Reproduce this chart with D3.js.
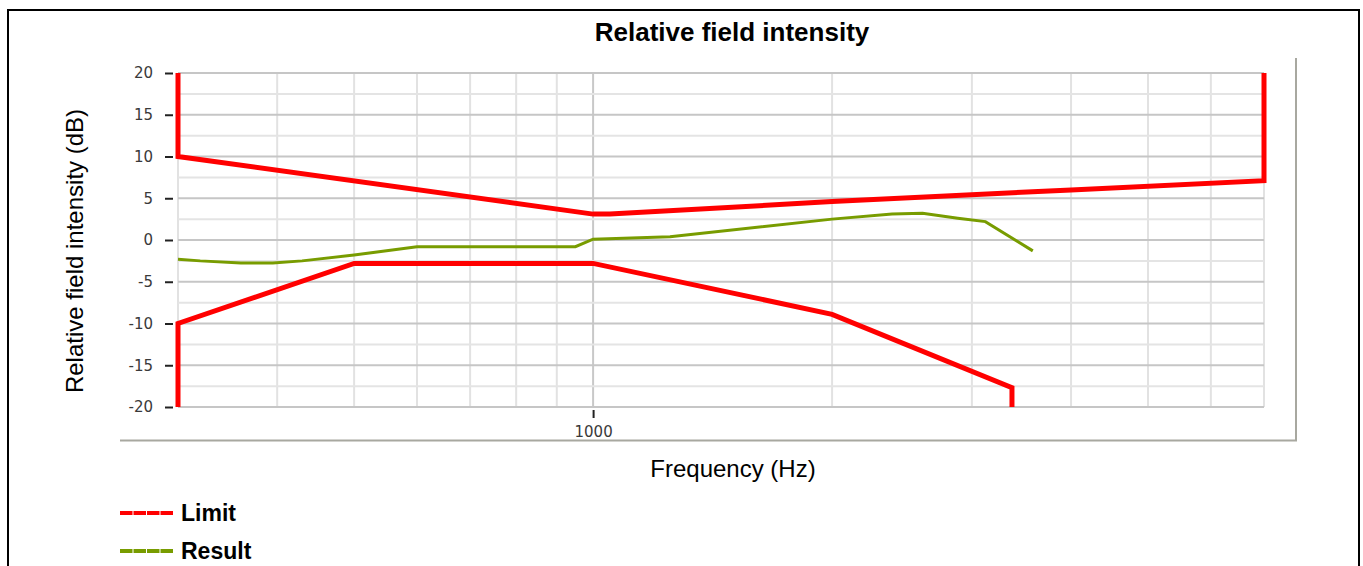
<!DOCTYPE html>
<html>
<head>
<meta charset="utf-8">
<script src="https://cdn.jsdelivr.net/npm/d3@7"></script>
<style>
  body { margin: 0; background: #fff; }
  svg { display: block; }
</style>
</head>
<body>
<div id="chart"></div>
<script>
// chart values (frequency in Hz, level in dB)
var limitUpperFreq = [300, 300, 1000, 1050, 2000, 4000, 7000, 7000];
var limitUpperDb   = [20, 10, 3.1, 3.1, 4.6, 6.0, 7.1, 20];
var limitLowerFreq = [300, 300, 500, 1000, 2000, 3370, 3370];
var limitLowerDb   = [-20, -10, -2.8, -2.8, -8.9, -17.7, -20];
var resultFreq = [300, 320, 360, 395, 430, 500, 600, 950, 1000, 1250, 2000, 2380, 2600, 2880, 3120, 3580];
var resultDb   = [-2.3, -2.5, -2.75, -2.75, -2.5, -1.8, -0.8, -0.8, 0.1, 0.4, 2.5, 3.1, 3.2, 2.6, 2.2, -1.3];
var yTickValues = [-20, -15, -10, -5, 0, 5, 10, 15, 20];
var yGridValues = [-20, -17.5, -15, -12.5, -10, -7.5, -5, -2.5, 0, 2.5, 5, 7.5, 10, 12.5, 15, 17.5, 20];
var xGridValues = [300, 400, 500, 600, 700, 800, 900, 1000, 2000, 3000, 4000, 5000, 6000, 7000];
var xTickLabels = [1000];
var seriesNames = ["Limit", "Result"];
var seriesColors = ["#ff0000", "#789c00"];

var W = 1363, H = 566;
var plot = {left: 178, right: 1264, top: 73, bottom: 407};

var svg = d3.select("#chart")
    .append("svg")
    .attr("width", W)
    .attr("height", H);

// outer border
svg.append("rect")
    .attr("x", 8).attr("y", 10)
    .attr("width", 1351).attr("height", 600)
    .attr("fill", "none")
    .attr("stroke", "#000")
    .attr("stroke-width", 2);

var x = d3.scaleLog()
    .domain([300, 7000])
    .range([plot.left, plot.right]);

var y = d3.scaleLinear()
    .domain([-20, 20])
    .range([plot.bottom, plot.top]);

// plot frame (right + bottom)
svg.append("line")
    .attr("x1", 120).attr("x2", 1297).attr("y1", 440.5).attr("y2", 440.5)
    .attr("stroke", "#a8a8a0").attr("stroke-width", 2);
svg.append("line")
    .attr("x1", 1296).attr("x2", 1296).attr("y1", 58).attr("y2", 441)
    .attr("stroke", "#a8a8a0").attr("stroke-width", 2);

// vertical grid
svg.append("g")
    .selectAll("line")
    .data(xGridValues)
    .enter()
    .append("line")
    .attr("x1", function(d) { return x(d); })
    .attr("x2", function(d) { return x(d); })
    .attr("y1", plot.top)
    .attr("y2", plot.bottom)
    .attr("stroke", function(d) { return d === 1000 ? "#c8c8c8" : "#e2e2e2"; })
    .attr("stroke-width", 2);

// horizontal grid
svg.append("g")
    .selectAll("line")
    .data(yGridValues)
    .enter()
    .append("line")
    .attr("x1", plot.left)
    .attr("x2", plot.right)
    .attr("y1", function(d) { return y(d); })
    .attr("y2", function(d) { return y(d); })
    .attr("stroke", function(d) { return d % 5 === 0 ? "#c6c6c6" : "#e4e4e4"; })
    .attr("stroke-width", 2);

// Y axis
var yAxis = svg.append("g")
    .attr("transform", "translate(" + (plot.left - 5) + ",0)")
    .call(d3.axisLeft(y).tickValues(yTickValues).tickFormat(function(d) { return String(d); }).tickSize(8).tickPadding(12));
yAxis.select(".domain").remove();
yAxis.selectAll(".tick line").attr("stroke", "#222").attr("stroke-width", 2);
yAxis.selectAll("text")
    .style("font-family", "'DejaVu Sans', sans-serif")
    .style("font-size", "15px")
    .attr("fill", "#3a3a3a");

// X axis
var xAxis = svg.append("g")
    .attr("transform", "translate(0," + (plot.bottom + 3) + ")")
    .call(d3.axisBottom(x).tickValues(xTickLabels).tickFormat(function(d) { return String(d); }).tickSize(8).tickPadding(8));
xAxis.select(".domain").remove();
xAxis.selectAll(".tick line").attr("stroke", "#222").attr("stroke-width", 2);
xAxis.selectAll("text")
    .style("font-family", "'DejaVu Sans', sans-serif")
    .style("font-size", "15px")
    .attr("fill", "#3a3a3a");

var line = d3.line()
    .x(function(d) { return x(d[0]); })
    .y(function(d) { return y(d[1]); });

var upper = d3.zip(limitUpperFreq, limitUpperDb);
var lower = d3.zip(limitLowerFreq, limitLowerDb);
var result = d3.zip(resultFreq, resultDb);

svg.append("path")
    .datum(result)
    .attr("d", line)
    .attr("fill", "none")
    .attr("stroke", seriesColors[1])
    .attr("stroke-width", 3);

[upper, lower].forEach(function(s) {
    svg.append("path")
        .datum(s)
        .attr("d", line)
        .attr("fill", "none")
        .attr("stroke", seriesColors[0])
        .attr("stroke-width", 5);
});

// titles
svg.append("text")
    .attr("x", 732).attr("y", 41)
    .attr("text-anchor", "middle")
    .style("font-family", "'Liberation Sans', Arial, sans-serif")
    .style("font-weight", "bold")
    .style("font-size", "26px")
    .text("Relative field intensity");

svg.append("text")
    .attr("x", 733).attr("y", 477)
    .attr("text-anchor", "middle")
    .style("font-family", "'Liberation Sans', Arial, sans-serif")
    .style("font-size", "24px")
    .text("Frequency (Hz)");

svg.append("text")
    .attr("transform", "translate(83,251) rotate(-90)")
    .attr("text-anchor", "middle")
    .style("font-family", "'Liberation Sans', Arial, sans-serif")
    .style("font-size", "24px")
    .text("Relative field intensity (dB)");

// legend
var legend = svg.append("g")
    .selectAll("g")
    .data(seriesNames)
    .enter()
    .append("g")
    .attr("transform", function(d, i) { return "translate(120," + (513 + i * 38) + ")"; });

legend.append("line")
    .attr("x1", 0).attr("x2", 54)
    .attr("stroke", function(d, i) { return seriesColors[i]; })
    .attr("stroke-width", 4)
    .attr("stroke-dasharray", "12.5,1");

legend.append("text")
    .attr("x", 61).attr("y", 8)
    .style("font-family", "'Liberation Sans', Arial, sans-serif")
    .style("font-weight", "bold")
    .style("font-size", "23px")
    .text(function(d) { return d; });
</script>
</body>
</html>
